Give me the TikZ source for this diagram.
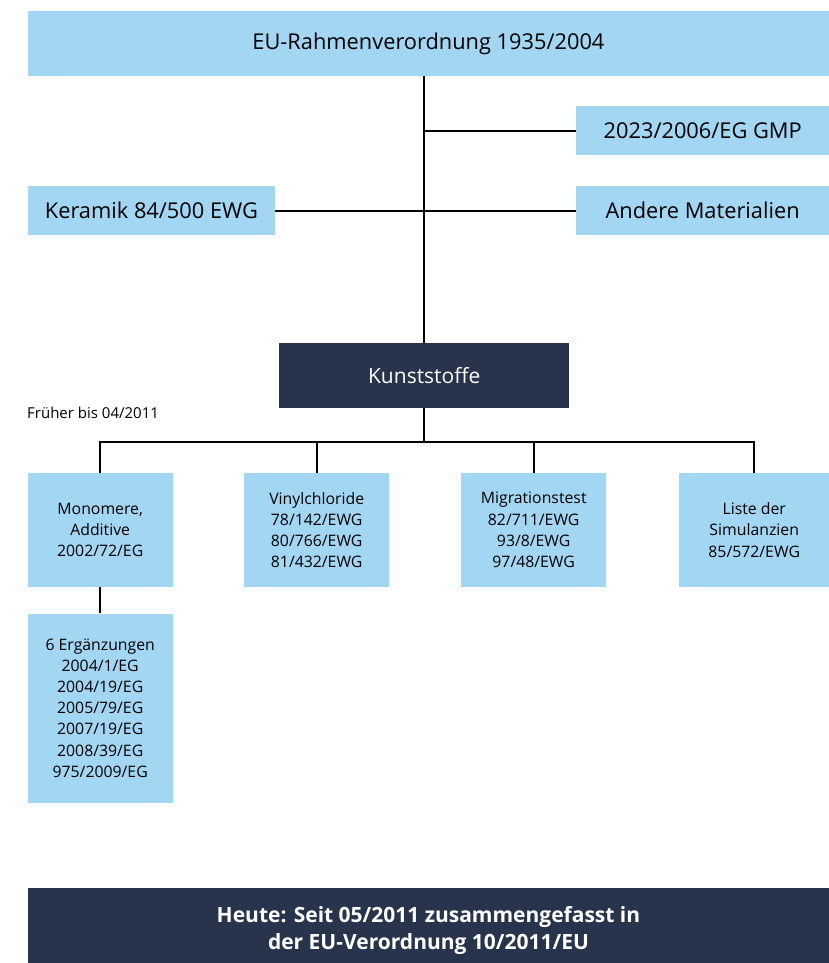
\documentclass[tikz,border=0pt]{standalone}
\usepackage{xcolor}
\usepackage{fontspec}
\setmainfont{Open Sans}
\usepackage{tikz}
\usetikzlibrary{positioning,calc}

\definecolor{regblue}{RGB}{162,214,243}
\definecolor{regnavy}{RGB}{40,52,75}

\begin{document}
\begin{tikzpicture}[
    x=1pt, y=-1pt,
    link/.style={draw, line width=1.8pt},
    regbox/.style={rectangle, fill=regblue, anchor=north west, inner sep=0pt, text centered, font=\fontsize{21.8}{26}\selectfont},
    navybox/.style={rectangle, fill=regnavy, anchor=north west, inner sep=0pt, text=white, align=center},
    subbox/.style={regbox, minimum width=145pt, minimum height=113.5pt, align=center, font=\fontsize{15.8}{21.2}\selectfont}
]
    \useasboundingbox (0,0) rectangle (829,963);

    \node [regbox, minimum width=801.5pt, minimum height=64.5pt] (frame) at (27.5,11) {EU-Rahmenverordnung 1935/2004};
    \node [regbox, minimum width=253pt, minimum height=49pt] (gmp) at (576,106) {2023/2006/EG GMP};
    \node [regbox, minimum width=247.5pt, minimum height=49pt] (keramik) at (27.5,186) {Keramik 84/500 EWG};
    \node [regbox, minimum width=253pt, minimum height=49pt] (andere) at (576,186) {Andere Materialien};

    \node [navybox, minimum width=290pt, minimum height=64.5pt, font=\fontsize{21}{26}\selectfont] (kunst) at (279,343) {Kunststoffe};
    \node [anchor=west, inner sep=0pt, font=\fontsize{15}{18}\selectfont] (frueher) at (27,413) {Früher bis 04/2011};
    \coordinate (bus) at (0,441.7);

    \node [subbox] (mono) at (27.5,473) {Monomere,\\Additive\\2002/72/EG};
    \node [subbox] (vinyl) at (244,473) {Vinylchloride\\78/142/EWG\\80/766/EWG\\81/432/EWG};
    \node [subbox] (migr) at (461,473) {Migrationstest\\82/711/EWG\\93/8/EWG\\97/48/EWG};
    \node [subbox, minimum width=150pt] (liste) at (679,473) {Liste der\\Simulanzien\\85/572/EWG};

    \node [subbox, minimum height=189pt] (ergaenz) at (27.5,613.3) {6 Ergänzungen\\2004/1/EG\\2004/19/EG\\2005/79/EG\\2007/19/EG\\2008/39/EG\\975/2009/EG};

    % runs past the page edge, as in the cropped original
    \node [navybox, minimum width=801.5pt, minimum height=85pt, font=\bfseries\fontsize{21}{26.7}\selectfont] (heute) at (27.5,888) {Heute: Seit 05/2011 zusammengefasst in\\der EU-Verordnung 10/2011/EU};

    \draw [link] (frame.south -| kunst.north) -- (kunst.north);
    \draw [link] (gmp.west) -- (gmp.west -| kunst.north);
    \draw [link] (keramik.east) -- (andere.west);

    \draw [link] (kunst.south) -- (kunst.south |- bus);
    \draw [link] (mono.north) |- (bus -| kunst.south) -| (liste.north);
    \foreach \n in {vinyl,migr}
        \draw [link] (\n.north) -- (\n.north |- bus);
    \draw [link] (mono.south) -- (ergaenz.north);

\end{tikzpicture}
\end{document}
